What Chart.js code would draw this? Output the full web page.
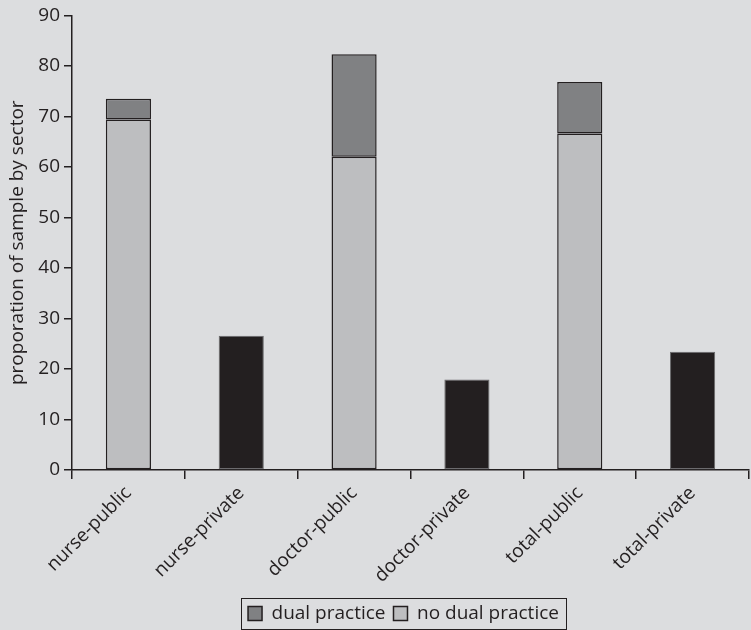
<!DOCTYPE html>
<html>
<head>
<meta charset="utf-8">
<script src="https://cdn.jsdelivr.net/npm/chart.js@4"></script>
<style>
  html, body { margin: 0; padding: 0; background: #dcdddf; }
  #wrap { width: 751px; height: 630px; }
</style>
</head>
<body>
<div id="wrap"><canvas id="chart" width="751" height="630"></canvas></div>
<script>
const categories = ['nurse-public', 'nurse-private', 'doctor-public', 'doctor-private', 'total-public', 'total-private'];
const noDualValues = [69.4, null, 62.0, null, 66.6, null];
const dualValues = [4.1, null, 20.3, null, 10.2, null];
const privateValues = [null, 26.6, null, 17.9, null, 23.4];
const yTicks = [0, 10, 20, 30, 40, 50, 60, 70, 80, 90];

const ink = '#231f20';
const fontFamily = '"Open Sans", "Noto Sans", sans-serif';

// paint the grey page behind everything
const bgPlugin = {
  id: 'bg',
  beforeDraw(chart) {
    const c = chart.ctx;
    c.save();
    c.fillStyle = '#dcdddf';
    c.fillRect(0, 0, chart.width, chart.height);
    c.restore();
  }
};

// nudge the legend a little, then frame it
const legendFrame = {
  id: 'legendFrame',
  afterUpdate(chart) {
    const lg = chart.legend;
    const dx = -7, dy = 3;
    lg.left += dx; lg.right += dx;
    lg.top += dy; lg.bottom += dy;
    (lg.legendHitBoxes || []).forEach(h => { h.left += dx; h.top += dy; });
  },
  afterDraw(chart) {
    const boxes = chart.legend.legendHitBoxes;
    if (!boxes || !boxes.length) return;
    let l = Infinity, r = -Infinity, t = Infinity, b = -Infinity;
    boxes.forEach(h => {
      l = Math.min(l, h.left); r = Math.max(r, h.left + h.width);
      t = Math.min(t, h.top); b = Math.max(b, h.top + h.height);
    });
    const c = chart.ctx;
    c.save();
    c.strokeStyle = ink;
    c.lineWidth = 1;
    c.strokeRect(Math.round(l - 7) + 0.5, Math.round(t - 6) + 0.5, Math.round(r - l + 14), Math.round(b - t + 12));
    c.restore();
  }
};

Chart.defaults.font.family = fontFamily;
Chart.defaults.color = ink;

new Chart(document.getElementById('chart').getContext('2d'), {
  type: 'bar',
  data: {
    labels: categories,
    datasets: [
      {
        label: 'no dual practice',
        data: noDualValues,
        backgroundColor: '#bdbec0',
        borderColor: ink,
        borderWidth: 1.5,
        borderSkipped: false
      },
      {
        label: 'dual practice',
        data: dualValues,
        backgroundColor: '#808183',
        borderColor: ink,
        borderWidth: 1.5,
        borderSkipped: false
      },
      {
        label: 'private',
        data: privateValues,
        backgroundColor: ink,
        borderColor: '#6a6a6c',
        borderWidth: 1,
        borderSkipped: false
      }
    ]
  },
  options: {
    responsive: false,
    animation: false,
    categoryPercentage: 0.4,
    barPercentage: 1,
    layout: { padding: { top: 15, right: 2, left: 0, bottom: 0 } },
    plugins: {
      tooltip: { enabled: false },
      legend: {
        position: 'bottom',
        fullSize: false,
        labels: {
          filter: item => item.datasetIndex !== 2,
          sort: (a, b) => b.datasetIndex - a.datasetIndex,
          boxWidth: 14,
          boxHeight: 14,
          padding: 8,
          color: ink,
          font: { size: 19 }
        }
      }
    },
    scales: {
      x: {
        stacked: true,
        grid: { display: true, drawOnChartArea: false, tickLength: 9, color: ink, lineWidth: 1.5 },
        border: { color: ink, width: 1.5 },
        ticks: { minRotation: 45, maxRotation: 45, color: ink, font: { size: 19 }, padding: 3 },
        afterFit(scale) { scale.height = 123; }
      },
      y: {
        stacked: true,
        min: 0,
        max: 90,
        afterBuildTicks(scale) { scale.ticks = yTicks.map(v => ({ value: v })); },
        grid: { display: true, drawOnChartArea: false, tickLength: 8, color: ink, lineWidth: 1.5 },
        border: { color: ink, width: 1.5 },
        ticks: { color: ink, font: { size: 19 }, padding: 4 },
        title: {
          display: true,
          text: 'proporation of sample by sector',
          color: ink,
          font: { size: 19 },
          padding: { top: 6, bottom: 2 }
        },
        afterFit(scale) { scale.width = 72; }
      }
    }
  },
  plugins: [bgPlugin, legendFrame]
});
</script>
</body>
</html>
